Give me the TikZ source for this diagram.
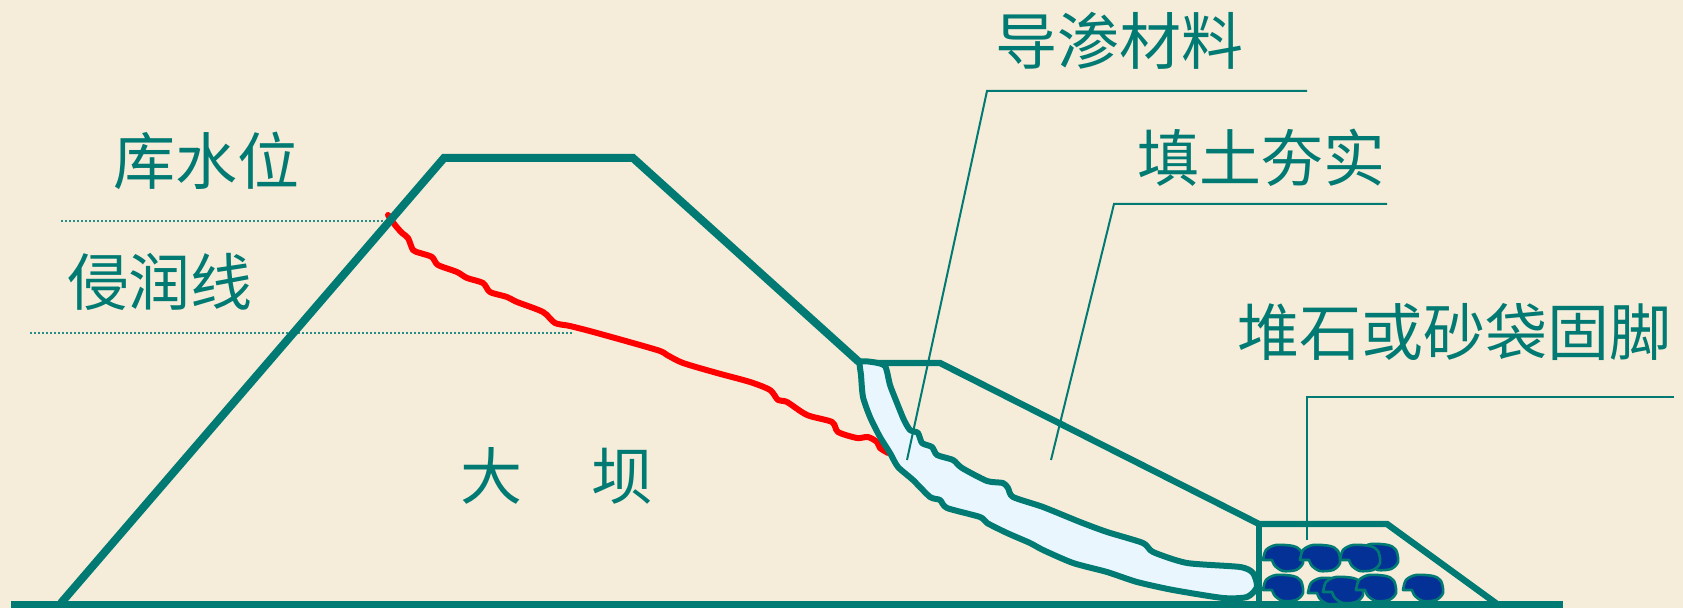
\documentclass[tikz,border=0pt]{standalone}
\usepackage{fontspec}
\newfontfamily\cjk{Noto Sans CJK SC}
\definecolor{paper}{RGB}{245,237,218}
\definecolor{damteal}{RGB}{0,122,114}
\definecolor{drainblue}{RGB}{233,246,253}
\definecolor{stoneblue}{RGB}{3,49,150}
\tikzset{
  lbl/.style={text=damteal,font=\cjk\fontsize{31pt}{36pt}\selectfont,inner sep=0pt},
  damline/.style={draw=damteal,line width=4pt},
  fillline/.style={draw=damteal,line width=3.2pt},
  leader/.style={draw=damteal,line width=1pt},
  levelline/.style={draw=damteal!85,line width=1pt,dash pattern=on 1pt off 1pt},
  stone/.style={fill=stoneblue,draw=damteal,line width=1.3pt,line join=round}
}
\begin{document}
\begin{tikzpicture}[x=0.5pt,y=-0.5pt]
\fill[paper] (0,0) rectangle (1683,608);
\useasboundingbox (0,0) rectangle (1683,608);
% level lines
\draw[levelline] (61,221)--(390,221);
\draw[levelline] (30,333)--(572,333);
% seepage line
\draw[red,line width=3pt,line cap=round,line join=round] plot[smooth,tension=0.45] coordinates {
  (388,215) (395,225) (402,233) (408,238) (413,250) (420,253) (432,257) (438,265)
  (457,272) (467,278) (483,283) (490,292) (507,297) (517,302) (543,312) (555,323)
  (570,326) (597,333) (657,350) (667,355) (683,363) (717,373) (750,382) (770,390)
  (778,400) (787,402) (807,415) (832,422) (838,432) (857,438) (868,437) (877,442)
  (880,448) (888,453)};
% dam body and ground
\draw[damline,line width=5pt] (11,606)--(1563,606);
\draw[damline] (61,603)--(444,158)--(633,158)--(859,362);
% backfill and toe
\draw[fillline] (857,363)--(940,363)--(1259,524)--(1387,524)--(1497,604);
\draw[fillline] (1259,524)--(1259,604);
% drain material
\draw[fill=drainblue,draw=damteal,line width=3pt,line join=round] plot[smooth cycle,tension=0.4] coordinates {
  (860,362) (872,362) (885,366) (890,385) (897,403) (904,420) (910,430) (918,433)
  (922,443) (932,447) (937,455) (953,460) (962,468) (987,481) (1003,483) (1008,488)
  (1013,497) (1043,507) (1080,522) (1107,532) (1143,543) (1153,552) (1187,563)
  (1240,567) (1253,573) (1257,587) (1247,597) (1223,598) (1173,590) (1137,582)
  (1107,572) (1073,563) (1043,550) (1030,543) (1007,533) (987,523) (980,517)
  (947,508) (940,500) (930,497) (913,480) (898,467) (890,453) (880,437) (870,417)
  (863,397) (861,375)};
% stones
\foreach \x/\y in {1283/558,1320/558,1378/557,1360/558,1283/588,1328/591,1343/590,1376/588,1423/588}
  \draw[stone,shift={(\x,\y)}] plot[smooth] coordinates {(-11,2) (-8,8) (0,13) (13,12) (20,5) (18,-7) (10,-12) (-7,-13) (-17,-8) (-20,2)} -- cycle;
% leader lines
\coordinate (daoshen-r) at (1307,91);
\coordinate (daoshen-k) at (987,91);
\coordinate (daoshen-e) at (907,460);
\coordinate (tiantu-r) at (1387,204);
\coordinate (tiantu-k) at (1114,204);
\coordinate (tiantu-e) at (1051,460);
\coordinate (gujiao-r) at (1674,397);
\coordinate (gujiao-k) at (1307,397);
\coordinate (gujiao-e) at (1307,540);
\draw[leader] (daoshen-r)--(daoshen-k)--(daoshen-e);
\draw[leader] (tiantu-r)--(tiantu-k)--(tiantu-e);
\draw[leader] (gujiao-r)--(gujiao-k)--(gujiao-e);
% labels
\node[lbl] (kushui) at (206,161) {库水位};
\node[lbl] (jinrun) at (160,282) {侵润线};
\node[lbl] (daoshen) at (1119,41) {导渗材料};
\node[lbl] (tiantu) at (1261,158) {填土夯实};
\node[lbl] (gujiao) at (1454,332) {堆石或砂袋固脚};
\node[lbl] (daba) at (557,476) {大\hspace{1.1em}坝};
\end{tikzpicture}
\end{document}
